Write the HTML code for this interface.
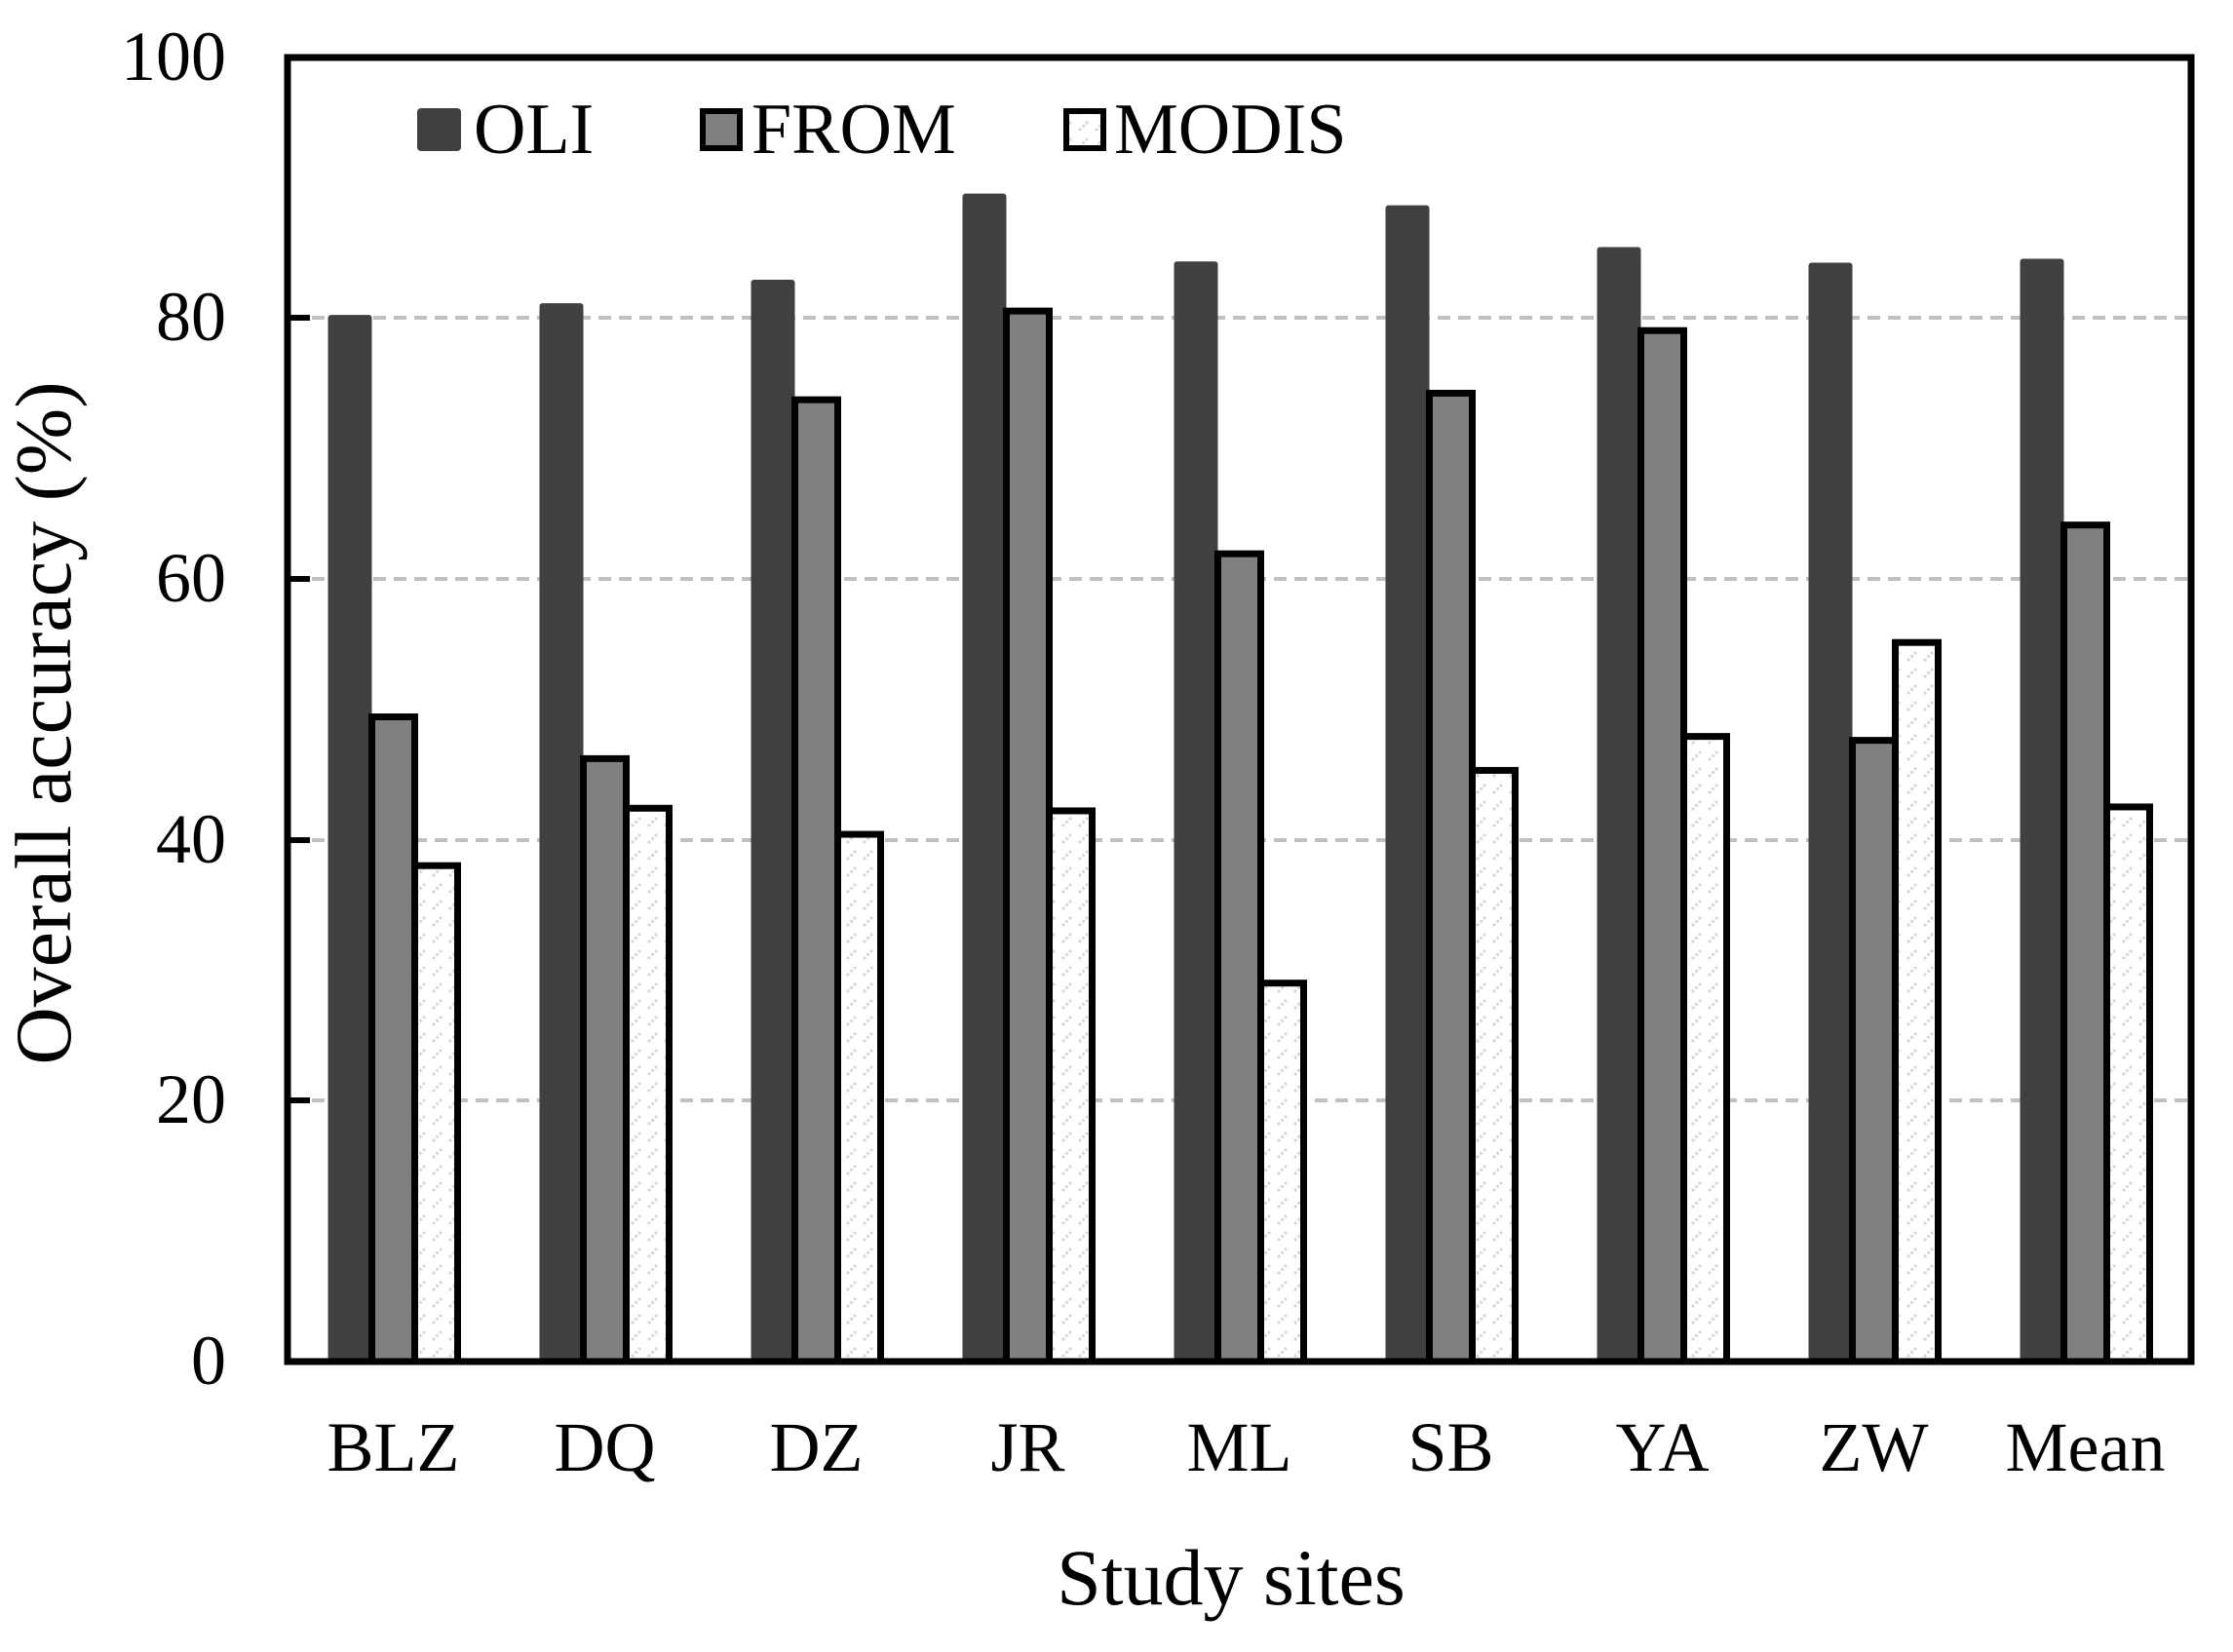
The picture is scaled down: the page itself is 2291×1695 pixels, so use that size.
<!DOCTYPE html>
<html><head><meta charset="utf-8"><style>
html,body{margin:0;padding:0;background:#fff}
svg{display:block}
text{font-family:"Liberation Serif",serif;fill:#000}
</style></head><body>
<svg width="2291" height="1695" viewBox="0 0 2291 1695" xmlns="http://www.w3.org/2000/svg">
<defs>
<pattern id="pm" width="17" height="17" patternUnits="userSpaceOnUse">
<rect width="17" height="17" fill="#fff"/>
<path d="M2 15 L11 6" stroke="#d8d8d8" stroke-width="3" stroke-dasharray="3 2"/>
</pattern>
</defs>
<g stroke="#c0c0c0" stroke-width="4" stroke-dasharray="13 8">
<line x1="320" y1="326" x2="2245" y2="326"/>
<line x1="320" y1="594" x2="2245" y2="594"/>
<line x1="320" y1="862" x2="2245" y2="862"/>
<line x1="320" y1="1129" x2="2245" y2="1129"/>
</g>
<g stroke="#000" stroke-width="6">
<line x1="295" y1="326" x2="318" y2="326"/>
<line x1="295" y1="594" x2="318" y2="594"/>
<line x1="295" y1="862" x2="318" y2="862"/>
<line x1="295" y1="1129" x2="318" y2="1129"/>
</g>
<g id="bars"></g>
<rect x="295" y="59" width="1953" height="1338" fill="none" stroke="#000" stroke-width="7"/>
<g font-size="72" text-anchor="end">
<text x="232" y="82">100</text>
<text x="232" y="349">80</text>
<text x="232" y="617">60</text>
<text x="232" y="885">40</text>
<text x="232" y="1152">20</text>
<text x="232" y="1420">0</text>
</g>
<g font-size="72" text-anchor="middle" id="xl"></g>
<text x="1263" y="1646" font-size="82" text-anchor="middle">Study sites</text>
<text transform="translate(72,742) rotate(-90)" font-size="82" text-anchor="middle">Overall accuracy (%)</text>
<rect x="428" y="111" width="45" height="44" rx="4" fill="#404040"/>
<text x="486" y="157" font-size="74">OLI</text>
<rect x="721" y="114" width="38" height="38" fill="#808080" stroke="#000" stroke-width="6"/>
<text x="771" y="157" font-size="74">FROM</text>
<rect x="1094" y="114" width="38" height="38" fill="url(#pm)" stroke="#000" stroke-width="6"/>
<text x="1143" y="157" font-size="74">MODIS</text>
<script>
var d=[["BLZ",80.2,49.4,38],["DQ",81.1,46.2,42.4],["DZ",82.9,73.7,40.4],["JR",89.5,80.5,42.2],["ML",84.3,61.9,29],["SB",88.6,74.2,45.3],["YA",85.4,79,47.9],["ZW",84.2,47.6,55.1],["Mean",84.5,64.1,42.5]];
var ns="http://www.w3.org/2000/svg",g=document.getElementById("bars"),xl=document.getElementById("xl");
function y(v){return 1397-v*13.39;}
function r(a){var e=document.createElementNS(ns,"rect");for(var k in a)e.setAttribute(k,a[k]);g.appendChild(e);}
d.forEach(function(o,i){var c=295+217*(i+0.5);
r({x:c-67,y:y(o[1]),width:45,height:1397-y(o[1]),fill:"#404040",rx:3});
r({x:c-22,y:y(o[2]),width:44,height:1397-y(o[2]),fill:"#808080",stroke:"#000","stroke-width":7});
r({x:c+22,y:y(o[3]),width:44,height:1397-y(o[3]),fill:"url(#pm)",stroke:"#000","stroke-width":7});
var t=document.createElementNS(ns,"text");t.setAttribute("x",c);t.setAttribute("y",1509);t.textContent=o[0];xl.appendChild(t);});
</script>
</svg>
</body></html>
